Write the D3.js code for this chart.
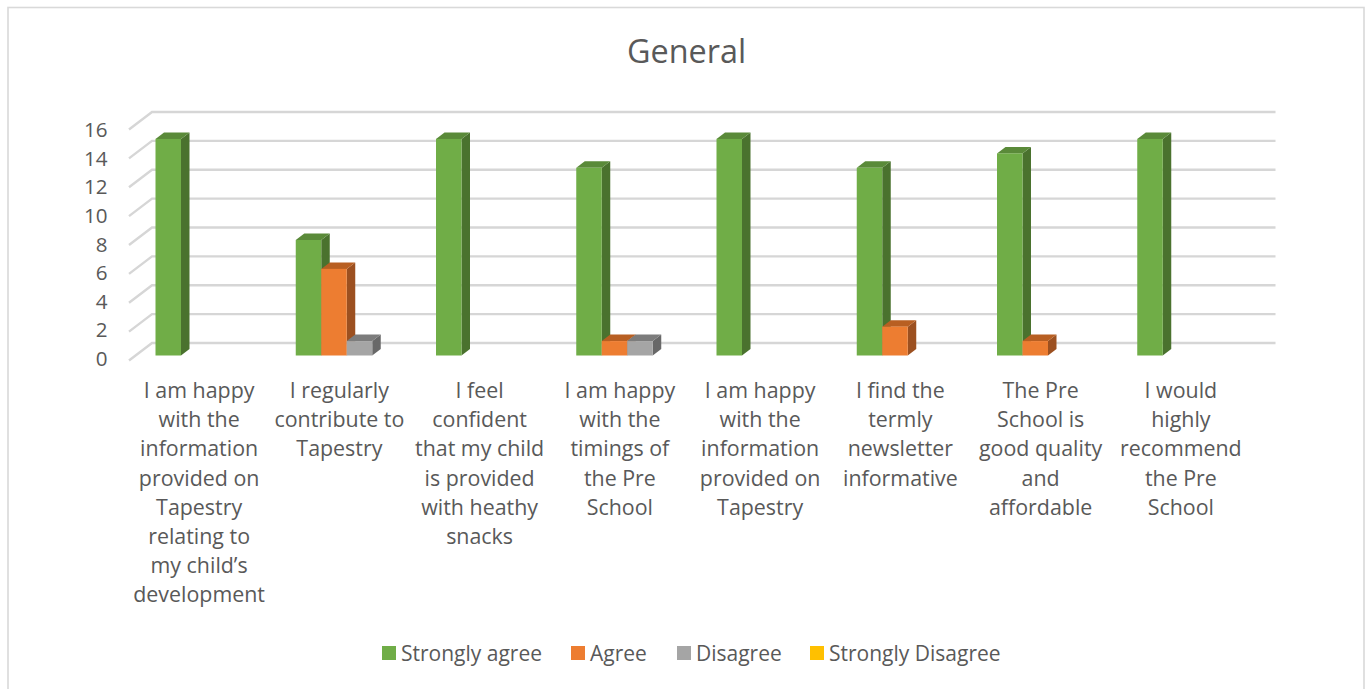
<!DOCTYPE html>
<html><head><meta charset="utf-8">
<script src="https://cdn.jsdelivr.net/npm/d3@7"></script>
<style>html,body{margin:0;padding:0;background:#fff}svg{display:block}</style></head>
<body><svg id="c" width="1365" height="689"></svg>
<script>
const chartTitle = "General";
const categories = [
 "I am happy with the information provided on Tapestry relating to my child’s development",
 "I regularly contribute to Tapestry",
 "I feel confident that my child is provided with heathy snacks",
 "I am happy with the timings of the Pre School",
 "I am happy with the information provided on Tapestry",
 "I find the termly newsletter informative",
 "The Pre School is good quality and affordable",
 "I would highly recommend the Pre School"];
const categoryLines = [
 ["I am happy","with the","information","provided on","Tapestry","relating to","my child’s","development"],
 ["I regularly","contribute to","Tapestry"],
 ["I feel","confident","that my child","is provided","with heathy","snacks"],
 ["I am happy","with the","timings of","the Pre","School"],
 ["I am happy","with the","information","provided on","Tapestry"],
 ["I find the","termly","newsletter","informative"],
 ["The Pre","School is","good quality","and","affordable"],
 ["I would","highly","recommend","the Pre","School"]];
const stronglyAgree = [15,8,15,13,15,13,14,15];
const agree = [0,6,0,1,0,2,1,0];
const disagree = [0,1,0,1,0,0,0,0];
const stronglyDisagree = [0,0,0,0,0,0,0,0];
const seriesNames = ["Strongly agree","Agree","Disagree","Strongly Disagree"];
const seriesFront = ["#70ad47","#ed7d31","#a5a5a5","#ffc000"];
const seriesTop = ["#5a8a39","#b85f22","#7c7c7c","#bf9000"];
const seriesSide = ["#4a722e","#9c5020","#686868","#a07800"];
const yTicks = [0,2,4,6,8,10,12,14,16];

const font = "'Open Sans', sans-serif", ink = "#595959";
const svg = d3.select("#c");
// outer frame
svg.append("rect").attr("x",8).attr("y",7.5).attr("width",1356).attr("height",690)
  .attr("fill","#fff").attr("stroke","#d9d9d9").attr("stroke-width",1.6);

const y = d3.scaleLinear().domain([0,16]).range([355.5,124.5]);
const yLabel = d3.scaleLinear().domain([0,16]).range([366,137]);
const x = d3.scaleBand().domain(d3.range(categories.length)).range([129,1251]);
const depth = {dx:8.5, dy:-6.5};      // bar depth
const wall = {dx:23, dy:-17.5};       // floor/wall depth
const barW = 25.5;
const gridG = svg.append("g");
yTicks.forEach(t=>{
  const yy = y(t)+5;
  gridG.append("polyline")
    .attr("points",`${129},${yy} ${129+wall.dx},${yy+wall.dy} ${1275.5},${yy+wall.dy}`)
    .attr("fill","none").attr("stroke","#d6d6d6").attr("stroke-width",2.4);
});
// y axis labels
svg.append("g").selectAll("text").data(yTicks).join("text")
  .attr("x",107.5).attr("y",d=>yLabel(d)).attr("text-anchor","end")
  .attr("font-family",font).attr("font-size",20.6).attr("fill",ink).text(d=>d);

const series = [stronglyAgree,agree,disagree,stronglyDisagree];
const barsG = svg.append("g");
categories.forEach((c,i)=>{
  const x0 = x(i)+26.5;
  series.forEach((s,k)=>{
    const v = s[i]; if(!v) return;
    const xl = x0+k*barW, xr = xl+barW, yt = y(v), yb = y(0);
    barsG.append("polygon").attr("fill",seriesSide[k])
      .attr("points",`${xr},${yt} ${xr+depth.dx},${yt+depth.dy} ${xr+depth.dx},${yb+depth.dy} ${xr},${yb}`);
    barsG.append("polygon").attr("fill",seriesTop[k])
      .attr("points",`${xl},${yt} ${xl+depth.dx},${yt+depth.dy} ${xr+depth.dx},${yt+depth.dy} ${xr},${yt}`);
    barsG.append("rect").attr("x",xl).attr("y",yt).attr("width",barW).attr("height",yb-yt).attr("fill",seriesFront[k]);
  });
});
// category labels
const lab = svg.append("g");
categoryLines.forEach((lines,i)=>{
  lab.append("text").attr("text-anchor","middle").attr("font-family",font).attr("font-size",21.4).attr("fill",ink)
   .attr("aria-label",categories[i])
   .selectAll("tspan").data(lines).join("tspan")
   .attr("x",x(i)+x.bandwidth()/2).attr("y",(d,j)=>398+j*29.2).text(d=>d);
});
svg.append("text").attr("x",686.5).attr("y",63).attr("text-anchor","middle")
  .attr("font-family",font).attr("font-size",32.4).attr("fill",ink).text(chartTitle);
// legend
const legendX = [382,571,677,810];
const lg = svg.append("g").selectAll("g").data(seriesNames).join("g")
  .attr("transform",(d,i)=>`translate(${legendX[i]},646)`);
lg.append("rect").attr("width",14).attr("height",14).attr("fill",(d,i)=>seriesFront[i]);
lg.append("text").attr("x",19).attr("y",14.5).attr("font-family",font).attr("font-size",21).attr("fill",ink).text(d=>d);
</script></body></html>
